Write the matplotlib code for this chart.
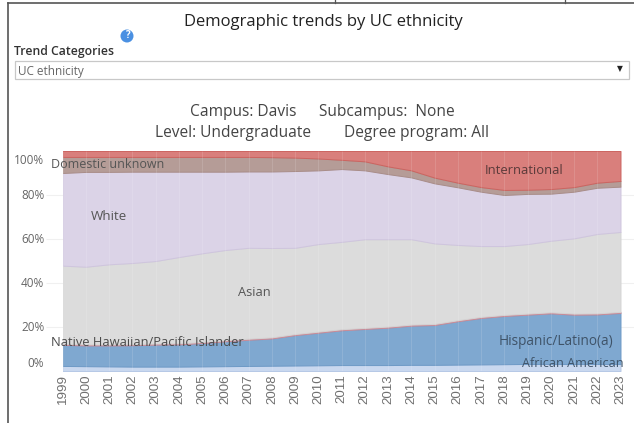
import matplotlib
matplotlib.use("Agg")
import matplotlib.pyplot as plt
from matplotlib.lines import Line2D
from matplotlib.patches import Rectangle, Circle

years = list(range(1999, 2024))
african_american = [2.3,2.2,2.1,2.0,2.0,2.0,2.1,2.2,2.3,2.4,2.5,2.6,2.7,2.7,2.7,2.8,2.8,2.9,3.0,3.1,3.2,3.2,3.2,3.2,3.2]
hispanic = [9.6,9.4,9.5,9.7,10.0,10.1,10.6,11.3,11.9,12.4,13.8,14.8,15.8,16.4,17.0,17.8,18.1,19.7,21.1,21.9,22.4,23.0,22.4,22.5,23.2]
pacific = [0.5]*25
asian = [35.5,35.3,36.4,36.9,37.5,39.2,40.3,41.0,41.3,40.6,39.2,39.8,39.7,40.3,39.7,38.8,36.6,34.2,32.2,31.3,31.6,32.5,34.2,36.1,36.3]
white = [42.1,43.1,42.0,41.5,40.6,38.8,37.1,35.6,34.7,34.8,34.9,33.5,33.1,31.3,29.6,28.1,27.3,26.2,24.7,23.2,22.8,21.4,21.2,21.0,20.6]
domestic = [7.3,6.8,6.8,6.7,6.7,6.7,6.7,6.7,6.6,6.5,6.1,5.4,4.2,4.1,3.5,3.2,2.6,2.1,2.1,2.3,1.9,2.1,2.1,2.3,2.6]
international = [2.7,2.7,2.7,2.7,2.7,2.7,2.7,2.7,2.7,2.8,3.0,3.4,4.0,4.7,7.0,8.8,12.1,14.4,16.4,17.7,17.6,17.3,16.4,14.4,13.6]
y_ticks = [0, 20, 40, 60, 80, 100]

W, H = 634, 423
fig = plt.figure(figsize=(W/100, H/100), dpi=100, facecolor="white")
FONT = ["Open Sans", "DejaVu Sans"]
def px(x, y):
    return x/W, 1-y/H
def label(x, y, s, size, color="#444444", ha="center", **kw):
    fx, fy = px(x, y+1)
    fig.text(fx, fy, s, fontsize=size, color=color, ha=ha, va="center", family=FONT, **kw)

ax = fig.add_axes([62.7/W, 1-371/H, (620.5-62.7)/W, 220/H])
fills = ["#c9d8ef", "#7fa8d0", "#d9a9b2", "#dcdcdc", "#dbd3e7", "#b59c97", "#d97f7c"]
edges = ["#b6c8e6", "#6e9ac6", "#c98c98", "#d4d4d4", "#cfc5de", "#a98d88", "#cc6460"]
polys = ax.stackplot(years, african_american, hispanic, pacific, asian, white, domestic, international, colors=fills, zorder=2)
for p, e in zip(polys, edges):
    p.set_edgecolor(e)
    p.set_linewidth(0.7)
ax.set_xlim(years[0], years[-1])
ax.set_ylim(0, 100)
for s in ax.spines.values():
    s.set_visible(False)
ax.vlines(years, 0, 100, color="#ffffff", lw=0.5, alpha=0.18, zorder=3)
ax.hlines(y_ticks[1:-1], -0.03, 1.025, transform=ax.get_yaxis_transform(), color="#f0f0f0", lw=0.8, clip_on=False, zorder=1)

# the end labels sit inside the axis range, as in the reference (offsets in px, up positive)
y_label_offset = {0: 8, 100: -9}
ax.set_yticks(y_ticks)
ax.set_yticklabels([])
for v in y_ticks:
    ax.annotate(f"{v}%", xy=(0, v), xycoords=ax.get_yaxis_transform(),
                xytext=(-18.5*0.72, y_label_offset.get(v, -0.7)*0.72),
                textcoords="offset points", ha="right", va="center",
                fontsize=8.5, color="#666666", family=FONT, annotation_clip=False)
ax.set_xticks(years)
ax.set_xticklabels(years, rotation=90, fontsize=9.6, color="#707070", family=["Liberation Sans"])
ax.tick_params(length=0, pad=2.5, axis="x")
ax.tick_params(length=0, axis="y")

# frame of the screenshot
fig.add_artist(Line2D([8/W, 8/W], [0, 1-3/H], color="#555555", lw=1.2))
fig.add_artist(Line2D([8/W, 1], [1-3/H, 1-3/H], color="#555555", lw=1.2))
for x in (335, 565):
    fig.add_artist(Line2D([x/W, x/W], [1-3/H, 1], color="#555555", lw=0.9))

label(323, 20.5, "Demographic trends by UC ethnicity", 12, "#222222")
label(14, 50, "Trend Categories", 8.8, "#333333", ha="left", fontweight="semibold")
fig.add_artist(Rectangle(px(15, 79), 614/W, 18/H, fc="white", ec="#c8c8c8", lw=0.9, transform=fig.transFigure))
label(18, 70, "UC ethnicity", 8.5, "#666666", ha="left")
label(620, 69, "▼", 5.5, "#222222")
fig.add_artist(Circle((127, H-36), 6.5, fc="#4a90e2", ec="none", transform=None))
label(127, 35, "?", 7, "white", fontweight="bold")

label(243, 111, "Campus: Davis", 11.2)
label(387, 111, "Subcampus:  None", 11.2)
label(233, 132, "Level: Undergraduate", 11.2)
label(416, 132, "Degree program: All", 11.2)

label(51, 164, "Domestic unknown", 9.0, "#555555", ha="left", zorder=5)
label(91, 216, "White", 9.6, "#555555", ha="left")
label(238, 291, "Asian", 9.3, "#555555", ha="left")
label(51, 341, "Native Hawaiian/Pacific Islander", 9.3, "#4a4a4a", ha="left")
label(499, 340, "Hispanic/Latino(a)", 9.8, "#3f5368", ha="left")
label(522, 362, "African American", 9.1, "#3f5368", ha="left")
label(485, 169, "International", 9.4, "#5a3a3a", ha="left")

fig.savefig("out.png", dpi=100)
